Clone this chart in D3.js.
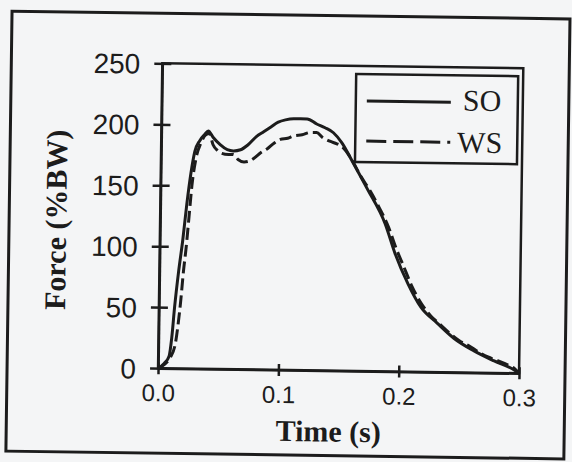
<!DOCTYPE html>
<html>
<head>
<meta charset="utf-8">
<script src="https://cdn.jsdelivr.net/npm/d3@7"></script>
<style>
  html, body { margin: 0; padding: 0; background: #f4f5f6; }
  svg { display: block; }
</style>
</head>
<body>
<svg id="chart" width="572" height="462"></svg>
<script>
// ---- data ----
const soTime  = [0, 0.005, 0.009, 0.011, 0.013, 0.016, 0.019, 0.022, 0.025, 0.028, 0.032, 0.036, 0.039, 0.043, 0.049, 0.055, 0.060, 0.066, 0.072, 0.079, 0.085, 0.091, 0.097, 0.103, 0.110, 0.121, 0.129, 0.136, 0.143, 0.150, 0.160, 0.172, 0.187, 0.1955, 0.2067, 0.2177, 0.2316, 0.2454, 0.262, 0.2787, 0.2953, 0.300];
const soForce = [0, 4, 10, 25, 50, 80, 105, 135, 160, 178, 187, 192, 195, 190, 184, 180, 179, 180, 184, 191, 195, 199, 203, 205, 206, 206, 202, 199, 195, 187, 170, 149, 121, 97, 72, 53, 40, 28, 18, 10, 3, 0];

const wsTime  = [0, 0.005, 0.010, 0.014, 0.016, 0.018, 0.020, 0.022, 0.024, 0.026, 0.029, 0.033, 0.037, 0.040, 0.043, 0.047, 0.050, 0.056, 0.060, 0.064, 0.069, 0.074, 0.077, 0.083, 0.088, 0.094, 0.099, 0.105, 0.110, 0.117, 0.124, 0.129, 0.134, 0.140, 0.146, 0.150, 0.158, 0.166, 0.174, 0.182, 0.190, 0.196, 0.203, 0.210, 0.218, 0.226, 0.234, 0.242, 0.250, 0.258, 0.266, 0.274, 0.282, 0.290, 0.296, 0.300];
const wsForce = [0, 3, 9, 20, 35, 55, 80, 100, 125, 150, 172, 185, 192, 193, 184, 179, 177, 176, 176, 172, 170, 171, 173, 178, 181, 186, 189, 190, 192, 193, 195, 195, 191, 188, 186, 184, 174, 160, 148, 134, 118, 102, 86, 70, 56, 46, 39, 32, 26, 22, 17, 13, 10, 7, 4, 0];

const xTicks = [0, 0.1, 0.2, 0.3];
const yTicks = [0, 50, 100, 150, 200, 250];
const seriesNames = ["SO", "WS"];
const xTitle = "Time (s)";
const yTitle = "Force (%BW)";

// ---- drawing ----
const svg = d3.select("#chart");
const g = svg.append("g").attr("transform", "rotate(0.8,286,231)");
const ink = "#1c1c1c";

// outer frame
g.append("rect").attr("x", 9).attr("y", 15).attr("width", 558).attr("height", 440)
  .attr("fill", "none").attr("stroke", ink).attr("stroke-width", 3);

const x = d3.scaleLinear().domain([0, 0.3]).range([160, 521]);
const y = d3.scaleLinear().domain([0, 250]).range([370, 65]);

// plot frame (top/right)
g.append("rect").attr("x", x(0)).attr("y", y(250))
  .attr("width", x(0.3) - x(0)).attr("height", y(0) - y(250))
  .attr("fill", "none").attr("stroke", ink).attr("stroke-width", 2.5);

// axes with crossing ticks
const yAxis = d3.axisLeft(y).tickValues(yTicks).tickFormat(d3.format("d")).tickSizeInner(8).tickSizeOuter(0).tickPadding(14);
const ya = g.append("g").attr("transform", `translate(${x(0)},0)`).call(yAxis);
ya.select(".domain").attr("stroke", ink).attr("stroke-width", 2.5);
ya.selectAll(".tick line").attr("stroke", ink).attr("stroke-width", 2.5).attr("x2", -8).attr("x1", 9);
ya.selectAll(".tick text").attr("fill", ink).style("font-family", "'Liberation Sans', Arial, sans-serif").style("font-size", "28px").attr("dy", "0.36em");

const xAxis = d3.axisBottom(x).tickValues(xTicks).tickFormat(d3.format(".1f")).tickSizeInner(6).tickSizeOuter(0).tickPadding(10);
const xa = g.append("g").attr("transform", `translate(0,${y(0)})`).call(xAxis);
xa.select(".domain").attr("stroke", ink).attr("stroke-width", 2.5);
xa.selectAll(".tick line").attr("stroke", ink).attr("stroke-width", 2.5).attr("y1", -6).attr("y2", 6);
xa.selectAll(".tick text").attr("fill", ink).style("font-family", "'Liberation Sans', Arial, sans-serif").style("font-size", "24px").attr("y", 16).attr("dy", "0.71em");

// axis titles
g.append("text").attr("x", 331).attr("y", 441).attr("text-anchor", "middle")
  .style("font-family", "'Liberation Serif', 'Times New Roman', serif").style("font-weight", "bold").style("font-size", "30px")
  .attr("fill", ink).text(xTitle);
g.append("text").attr("transform", "translate(66,223) rotate(-90)").attr("text-anchor", "middle")
  .style("font-family", "'Liberation Serif', 'Times New Roman', serif").style("font-weight", "bold").style("font-size", "30px")
  .attr("fill", ink).text(yTitle);

// series
const line = d3.line().x(d => x(d[0])).y(d => y(d[1])).curve(d3.curveMonotoneX);
const soData = soTime.map((t, i) => [t, soForce[i]]);
const wsData = wsTime.map((t, i) => [t, wsForce[i]]);
g.append("path").datum(wsData).attr("d", line).attr("fill", "none").attr("stroke", ink)
  .attr("stroke-width", 3).attr("stroke-dasharray", "12,5");
g.append("path").datum(soData).attr("d", line).attr("fill", "none").attr("stroke", ink)
  .attr("stroke-width", 3);

// legend
const lg = g.append("g");
lg.append("rect").attr("x", 354).attr("y", 73).attr("width", 162).attr("height", 88)
  .attr("fill", "#f4f5f6").attr("stroke", ink).attr("stroke-width", 2.5);
const legendRows = [{name: seriesNames[0], dash: null, ly: 100, tx: 461, ty: 108},
                    {name: seriesNames[1], dash: "20,7", ly: 140, tx: 456, ty: 150}];
legendRows.forEach(r => {
  lg.append("line").attr("x1", 365).attr("x2", 449).attr("y1", r.ly).attr("y2", r.ly)
    .attr("stroke", ink).attr("stroke-width", 3).attr("stroke-dasharray", r.dash);
  lg.append("text").attr("x", r.tx).attr("y", r.ty)
    .style("font-family", "'Liberation Serif', 'Times New Roman', serif").style("font-size", "30px")
    .attr("fill", ink).text(r.name);
});
</script>
</body>
</html>
